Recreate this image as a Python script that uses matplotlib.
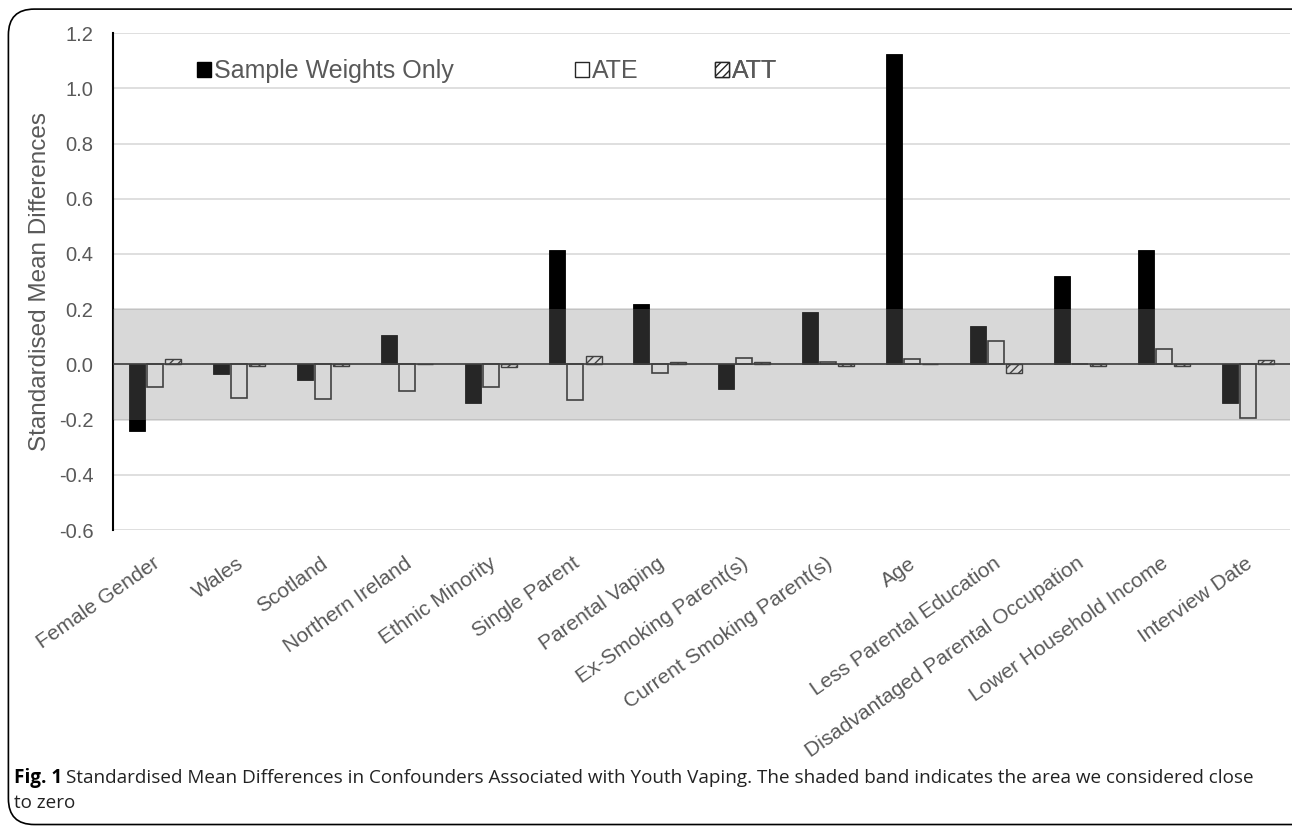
import numpy as np
import matplotlib.pyplot as plt
from matplotlib.patches import FancyBboxPatch, Patch
import matplotlib.transforms as mtransforms

plt.rcParams['font.family'] = ['Liberation Sans', 'DejaVu Sans']

categories = ["Female Gender", "Wales", "Scotland", "Northern Ireland",
              "Ethnic Minority", "Single Parent", "Parental Vaping",
              "Ex-Smoking Parent(s)", "Current Smoking Parent(s)", "Age",
              "Less Parental Education", "Disadvantaged Parental Occupation",
              "Lower Household Income", "Interview Date"]

sample_weights = [-0.24, -0.035, -0.055, 0.105, -0.14, 0.415, 0.22,
                  -0.09, 0.19, 1.125, 0.14, 0.32, 0.415, -0.14]
ate = [-0.08, -0.12, -0.125, -0.095, -0.083, -0.13, -0.03,
       0.025, 0.01, 0.02, 0.085, 0.003, 0.055, -0.195]
att = [0.02, -0.005, -0.007, 0.003, -0.01, 0.03, 0.01,
       0.01, -0.005, 0.003, -0.03, -0.005, -0.005, 0.015]

series_names = ["Sample Weights Only", "ATE", "ATT"]
yticks = [-0.6, -0.4, -0.2, 0.0, 0.2, 0.4, 0.6, 0.8, 1.0, 1.2]
band = (-0.2, 0.2)

text_gray = "#595959"

fig = plt.figure(figsize=(12.92, 8.27), dpi=100)
ax = fig.add_axes([0.0875, 0.359, 0.911, 0.601])

x = np.arange(len(categories))
w = 0.19
step = 0.215

ax.bar(x - step, sample_weights, w, color="black", edgecolor="black",
       linewidth=0.6, zorder=3)
ax.bar(x, ate, w, color="white", edgecolor="#262626",
       linewidth=1.2, zorder=3)
ax.bar(x + step, att, w, color="white", edgecolor="#262626",
       hatch="////", linewidth=1.0, zorder=3)

# shaded band drawn over the bars, semi-transparent
ax.axhspan(band[0], band[1], color="#808080", alpha=0.3, lw=0, zorder=4)

ax.axhline(0, color="#404040", lw=1.2, zorder=5)

ax.set_xlim(-0.5, len(categories) - 0.5)
ax.set_ylim(-0.6, 1.2)
ax.set_yticks(yticks)
ax.set_yticklabels([f"{v:.1f}" for v in yticks])
ax.yaxis.grid(True, color="#d9d9d9", lw=1.2, zorder=0)
ax.set_axisbelow(True)

ax.set_xticks(x)
ax.set_xticklabels(categories, rotation=35, ha="right", va="top",
                   rotation_mode="anchor", fontsize=15, color=text_gray)
ax.tick_params(axis="x", length=0, pad=17)
shift = mtransforms.ScaledTranslation(-3 / 100, 0, fig.dpi_scale_trans)
for lab in ax.get_xticklabels():
    lab.set_transform(lab.get_transform() + shift)
ax.tick_params(axis="y", length=0, labelsize=14.5, labelcolor=text_gray, pad=14)

for s in ["top", "right", "bottom"]:
    ax.spines[s].set_visible(False)
ax.spines["left"].set_color("black")
ax.spines["left"].set_linewidth(1.5)

ax.set_ylabel("Standardised Mean Differences", fontsize=17.5, color=text_gray,
              labelpad=6)

# legend entries placed one by one, like the original layout
handles = [Patch(facecolor="black", edgecolor="black"),
           Patch(facecolor="white", edgecolor="#262626"),
           Patch(facecolor="white", edgecolor="#262626", hatch="////")]
legend_x = [0.059, 0.380, 0.499]
for h, name, lx in zip(handles, series_names, legend_x):
    leg = ax.legend([h], [name], loc="upper left", bbox_to_anchor=(lx, 0.978),
                    frameon=False, fontsize=18, handlelength=0.55,
                    handleheight=0.55, handletextpad=0.1, borderpad=0,
                    borderaxespad=0.6, labelcolor=text_gray)
    ax.add_artist(leg)

# caption
cap_y = 1 - 778 / 827
fig.text(0.0105, cap_y, "Fig. 1", fontsize=13.6, color="black",
         va="center", ha="left", family="Open Sans", weight="bold")
fig.text(0.051, cap_y,
         "Standardised Mean Differences in Confounders Associated with Youth "
         "Vaping. The shaded band indicates the area we considered close",
         fontsize=13.6, color="#222222", va="center", ha="left",
         family="Open Sans")
fig.text(0.0105, 1 - 803 / 827, "to zero", fontsize=13.6, color="#222222",
         va="center", ha="left", family="Open Sans")

border = FancyBboxPatch((0.0065, 0.003), 1.2, 0.986,
                        boxstyle="round,pad=0,rounding_size=0.02",
                        transform=fig.transFigure, fill=False,
                        edgecolor="black", lw=1.2, mutation_aspect=1.56)
fig.patches.append(border)

fig.savefig("out.png", dpi=100)
